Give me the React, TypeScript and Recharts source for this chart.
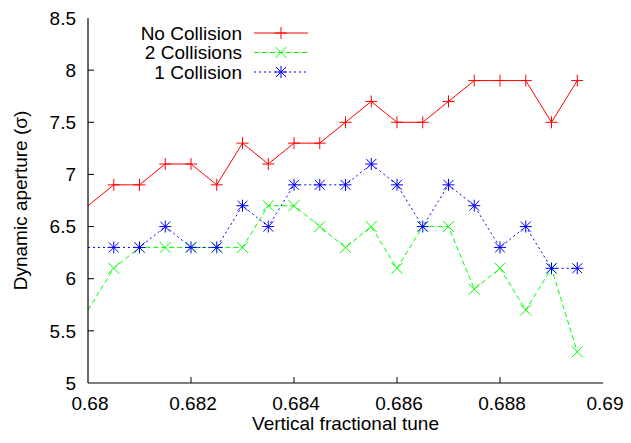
import React from "react";
import { LineChart, Line, XAxis, YAxis, Label } from "recharts";

const tunes = [0.68, 0.6805, 0.681, 0.6815, 0.682, 0.6825, 0.683, 0.6835, 0.684, 0.6845, 0.685, 0.6855, 0.686, 0.6865, 0.687, 0.6875, 0.688, 0.6885, 0.689, 0.6895];
const noCollision = [6.7, 6.9, 6.9, 7.1, 7.1, 6.9, 7.3, 7.1, 7.3, 7.3, 7.5, 7.7, 7.5, 7.5, 7.7, 7.9, 7.9, 7.9, 7.5, 7.9];
const twoCollisions = [5.7, 6.1, 6.3, 6.3, 6.3, 6.3, 6.3, 6.7, 6.7, 6.5, 6.3, 6.5, 6.1, 6.5, 6.5, 5.9, 6.1, 5.7, 6.1, 5.3];
const oneCollision = [6.3, 6.3, 6.3, 6.5, 6.3, 6.3, 6.7, 6.5, 6.9, 6.9, 6.9, 7.1, 6.9, 6.5, 6.9, 6.7, 6.3, 6.5, 6.1, 6.1];

const xTicks = [0.68, 0.682, 0.684, 0.686, 0.688, 0.69];
const xTickLabels = ["0.68", "0.682", "0.684", "0.686", "0.688", "0.69"];
const yTicks = [5, 5.5, 6, 6.5, 7, 7.5, 8, 8.5];
const yTickLabels = ["5", "5.5", "6", "6.5", "7", "7.5", "8", "8.5"];

const seriesNames = ["No Collision", "2 Collisions", "1 Collision"];
const X_MIN = 0.68;
const X_MAX = 0.69;

const data = tunes.map((x, i) => ({
  x,
  noColl: noCollision[i],
  twoColl: twoCollisions[i],
  oneColl: oneCollision[i],
}));

const FONT = "'Liberation Sans', Arial, Helvetica, sans-serif";
const FS = 19;

const RED = "#ff0000";
const GREEN = "#00ff00";
const BLUE = "#0000ff";

function PlusMark({ cx, cy, color }: any) {
  const s = 6;
  return (
    <g stroke={color} strokeWidth={1}>
      <line x1={cx - s} y1={cy} x2={cx + s} y2={cy} />
      <line x1={cx} y1={cy - s} x2={cx} y2={cy + s} />
    </g>
  );
}
function CrossMark({ cx, cy, color }: any) {
  const s = 5.5;
  return (
    <g stroke={color} strokeWidth={1}>
      <line x1={cx - s} y1={cy - s} x2={cx + s} y2={cy + s} />
      <line x1={cx - s} y1={cy + s} x2={cx + s} y2={cy - s} />
    </g>
  );
}
function StarMark({ cx, cy, color }: any) {
  const s = 6;
  const d = 5;
  return (
    <g stroke={color} strokeWidth={1}>
      <line x1={cx - s} y1={cy} x2={cx + s} y2={cy} />
      <line x1={cx} y1={cy - s} x2={cx} y2={cy + s} />
      <line x1={cx - d} y1={cy - d} x2={cx + d} y2={cy + d} />
      <line x1={cx - d} y1={cy + d} x2={cx + d} y2={cy - d} />
    </g>
  );
}

function makeDot(Mark: any, color: string) {
  return (props: any) => {
    const { cx, cy, payload, index } = props;
    if (cx == null || cy == null || payload.x <= X_MIN) return <g key={"d" + index} />;
    return (
      <g key={"d" + index}>
        <Mark cx={cx} cy={cy} color={color} />
      </g>
    );
  };
}

function BottomTick(props: any) {
  const { x, y, payload, index } = props;
  const idx = xTicks.indexOf(payload.value);
  const label = idx >= 0 ? xTickLabels[idx] : String(payload.value);
  const inner = index !== 0 && index !== xTicks.length - 1;
  return (
    <g>
      {inner && <line x1={x} y1={y} x2={x} y2={y - 6} stroke="#000" strokeWidth={1} />}
      <text x={x + 2} y={y + 27} textAnchor="middle" fontFamily={FONT} fontSize={FS} fill="#000">
        {label}
      </text>
    </g>
  );
}
function TopTick(props: any) {
  const { x, y, index } = props;
  const inner = index !== 0 && index !== xTicks.length - 1;
  return <g>{inner && <line x1={x} y1={y} x2={x} y2={y + 6} stroke="#000" strokeWidth={1} />}</g>;
}
function LeftTick(props: any) {
  const { x, y, payload, index } = props;
  const idx = yTicks.indexOf(payload.value);
  const label = idx >= 0 ? yTickLabels[idx] : String(payload.value);
  const inner = index !== 0 && index !== yTicks.length - 1;
  return (
    <g>
      {inner && <line x1={x} y1={y} x2={x + 6} y2={y} stroke="#000" strokeWidth={1} />}
      <text x={x - 12} y={y} dy="0.35em" textAnchor="end" fontFamily={FONT} fontSize={FS} fill="#000">
        {label}
      </text>
    </g>
  );
}
function RightTick(props: any) {
  const { x, y, index } = props;
  const inner = index !== 0 && index !== yTicks.length - 1;
  return <g>{inner && <line x1={x} y1={y} x2={x - 6} y2={y} stroke="#000" strokeWidth={1} />}</g>;
}

function YTitle(props: any) {
  const vb = props.viewBox;
  const cx = vb.x + 27;
  const cy = vb.y + vb.height / 2;
  return (
    <text
      x={cx}
      y={cy}
      transform={`rotate(-90, ${cx}, ${cy})`}
      textAnchor="middle"
      fontFamily={FONT}
      fontSize={FS}
      fill="#000"
    >
      Dynamic aperture (σ)
    </text>
  );
}
function XTitle(props: any) {
  const vb = props.viewBox;
  const cx = vb.x + vb.width / 2;
  const cy = vb.y + 47;
  return (
    <text x={cx} y={cy} textAnchor="middle" fontFamily={FONT} fontSize={FS} fill="#000">
      Vertical fractional tune
    </text>
  );
}

function LegendOverlay() {
  const rows = [
    { name: seriesNames[0], color: RED, dash: undefined, Mark: PlusMark },
    { name: seriesNames[1], color: GREEN, dash: "5 3", Mark: CrossMark },
    { name: seriesNames[2], color: BLUE, dash: "2 3", Mark: StarMark },
  ];
  return (
    <svg
      width={631}
      height={443}
      style={{ position: "absolute", left: 0, top: 0, pointerEvents: "none" }}
    >
      {rows.map((r, i) => {
        const y = 33 + i * 19.5;
        return (
          <g key={r.name}>
            <text x={242} y={y} dy="0.35em" textAnchor="end" fontFamily={FONT} fontSize={FS} fill="#000">
              {r.name}
            </text>
            <line x1={254} y1={y} x2={308} y2={y} stroke={r.color} strokeWidth={1} strokeDasharray={r.dash} />
            <r.Mark cx={281} cy={y} color={r.color} />
          </g>
        );
      })}
    </svg>
  );
}

export default function App() {
  return (
    <div style={{ position: "absolute", left: 0, top: 0, width: 631, height: 443, background: "#fff" }}>
      <LineChart
        width={631}
        height={443}
        data={data}
        margin={{ top: 18, right: 28, left: 0, bottom: 0 }}
      >
        <XAxis
          xAxisId="bottom"
          dataKey="x"
          type="number"
          domain={[X_MIN, X_MAX]}
          ticks={xTicks}
          interval={0}
          allowDataOverflow
          height={60}
          tickSize={0}
          tickMargin={0}
          tickLine={false}
          tick={<BottomTick />}
          axisLine={{ stroke: "#000", strokeWidth: 1.2 }}
        >
          <Label content={<XTitle />} />
        </XAxis>
        <XAxis
          xAxisId="top"
          orientation="top"
          dataKey="x"
          type="number"
          domain={[X_MIN, X_MAX]}
          ticks={xTicks}
          interval={0}
          allowDataOverflow
          height={0}
          tickSize={0}
          tickMargin={0}
          tickLine={false}
          tick={<TopTick />}
          axisLine={{ stroke: "#000", strokeWidth: 1.2 }}
        />
        <YAxis
          yAxisId="left"
          type="number"
          domain={[5, 8.5]}
          ticks={yTicks}
          interval={0}
          allowDataOverflow
          width={88}
          tickSize={0}
          tickMargin={0}
          tickLine={false}
          tick={<LeftTick />}
          axisLine={{ stroke: "#000", strokeWidth: 1.2 }}
        >
          <Label content={<YTitle />} />
        </YAxis>
        <YAxis
          yAxisId="right"
          orientation="right"
          type="number"
          domain={[5, 8.5]}
          ticks={yTicks}
          interval={0}
          allowDataOverflow
          width={0}
          tickSize={0}
          tickMargin={0}
          tickLine={false}
          tick={<RightTick />}
          axisLine={{ stroke: "#000", strokeWidth: 1.2 }}
        />
        <Line
          xAxisId="bottom"
          yAxisId="left"
          type="linear"
          dataKey="noColl"
          name={seriesNames[0]}
          stroke={RED}
          strokeWidth={1}
          dot={makeDot(PlusMark, RED)}
          activeDot={false}
          isAnimationActive={false}
        />
        <Line
          xAxisId="bottom"
          yAxisId="left"
          type="linear"
          dataKey="twoColl"
          name={seriesNames[1]}
          stroke={GREEN}
          strokeWidth={1}
          strokeDasharray="5 3"
          dot={makeDot(CrossMark, GREEN)}
          activeDot={false}
          isAnimationActive={false}
        />
        <Line
          xAxisId="bottom"
          yAxisId="left"
          type="linear"
          dataKey="oneColl"
          name={seriesNames[2]}
          stroke={BLUE}
          strokeWidth={1}
          strokeDasharray="2 3"
          dot={makeDot(StarMark, BLUE)}
          activeDot={false}
          isAnimationActive={false}
        />
      </LineChart>
      <LegendOverlay />
    </div>
  );
}
